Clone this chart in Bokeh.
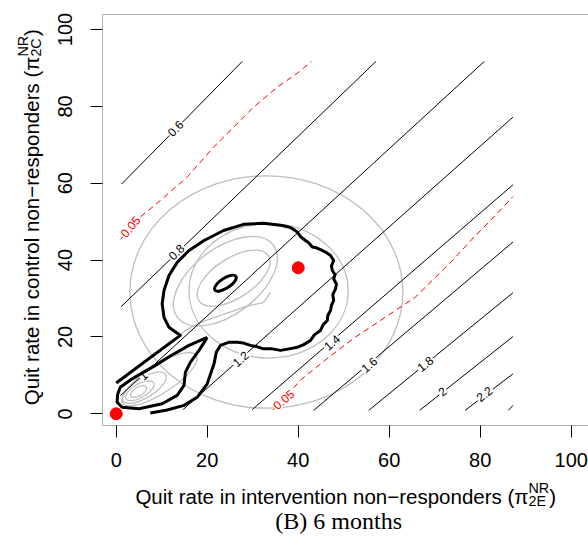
import math
from bokeh.plotting import figure
from bokeh.models import Label, FixedTicker, Range1d, BoxAnnotation
from bokeh.core.properties import value
from bokeh.embed import file_html
from bokeh.resources import INLINE

# ---------------- data ----------------
x_ticks = [0, 20, 40, 60, 80, 100]
y_ticks = [0, 20, 40, 60, 80, 100]

# plotting region limits (R's usr box)
box_x = [-3.0, 104.2]
box_y = [-3.04, 103.9]

# straight contour lines of the ratio surface
ratio_levels = ["0.6", "0.8", "1", "1.2", "1.4", "1.6", "1.8", "2", "2.2", "2.4"]
ratio_x0 = [1.2, 1.1, 0.9, 14.7, 29.9, 43.4, 55.5, 66.7, 76.7, 86.2]
ratio_y0 = [59.8, 27.9, 4.7, 1.1, 1.1, 0.9, 0.9, 0.9, 0.9, 0.9]
ratio_x1 = [27.7, 57.1, 80.9, 87.2, 87.2, 87.2, 87.2, 87.2, 87.2, 87.2]
ratio_y1 = [91.7, 91.7, 91.7, 77.2, 59.6, 44.7, 31.5, 20.1, 10.4, 2.2]
# where each level's label sits on its line (last level is unlabelled)
ratio_lab_x = [13.0, 13.2, 5.9, 27.3, 47.4, 55.6, 67.9, 71.7, 80.9]
ratio_lab_y = [74.3, 42.1, 10.0, 14.3, 18.6, 12.8, 13.0, 5.8, 5.2]

# 0.05 significance contours (red dashed)
sig_upper_x = [1.0, 5.3, 9.7, 15.6, 21.4, 25.8, 30.2, 35.4, 40.1, 42.9]
sig_upper_y = [45.4, 51.2, 55.5, 61.6, 69.4, 74.6, 79.8, 85.0, 88.9, 91.7]
sig_lower_x = [34.5, 37.5, 40.8, 46.7, 52.5, 59.1, 65.7, 69.8, 73.4, 78.5, 82.0, 87.2]
sig_lower_y = [1.0, 4.8, 9.1, 14.7, 19.9, 25.1, 30.3, 35.1, 39.3, 45.8, 50.0, 56.5]
sig_lab_x = [3.1, 36.8]
sig_lab_y = [48.7, 3.7]
sig_lab_text = ["0.05", "0.05"]

# thick black posterior contour (open "balloon" curve)
balloon_x = [0.0, 7.0, 14.1, 11.6, 10.5, 10.1, 10.5, 11.6, 13.4, 16.0, 19.3, 23.6, 28.0,
             32.4, 36.5, 38.3, 39.8, 40.6, 41.6, 42.3, 43.1, 44.0, 44.9, 46.0, 47.1, 47.8,
             47.3, 47.5, 48.1, 47.8, 48.4, 48.2, 47.6, 47.8, 47.3, 47.1, 46.5, 46.4, 45.5,
             44.9, 43.6, 42.7, 41.2, 39.8, 38.0, 36.1, 34.3, 32.4, 30.9, 29.5, 28.0, 26.6,
             24.7, 22.9, 22.0, 21.5, 20.0, 17.8, 14.9, 11.2, 7.5]
balloon_y = [8.0, 14.2, 20.4, 22.5, 25.1, 28.6, 32.1, 36.0, 39.4, 42.5, 45.1, 47.7, 49.3,
             49.6, 49.0, 48.5, 47.3, 46.0, 45.1, 44.5, 43.4, 43.2, 42.7, 42.1, 41.2, 39.9,
             38.5, 37.3, 36.2, 35.1, 33.8, 32.5, 31.0, 29.5, 28.2, 26.9, 25.6, 24.3, 23.2,
             21.7, 20.6, 19.1, 18.0, 17.3, 16.9, 16.5, 16.9, 16.9, 17.5, 17.8, 18.4, 18.6,
             18.6, 17.8, 16.0, 13.0, 7.8, 4.3, 2.2, 1.0, 0.2]
# thick black closed contour in the tail
tail_x = [20.0, 16.0, 12.0, 8.6, 3.5, 0.9, 0.3, 0.2, 1.3, 5.0, 10.1, 13.4, 14.9, 15.2,
          16.3, 18.2, 19.6, 20.0]
tail_y = [19.9, 17.8, 15.1, 12.6, 9.1, 6.9, 5.0, 3.0, 1.7, 1.3, 2.6, 4.8, 7.4, 10.8,
          13.4, 16.5, 19.1, 19.9]
# small thick black ellipse at the posterior mode (centre, axes in data units)
mode_x, mode_y = [24.0], [34.0]
mode_w, mode_h, mode_angle = [5.5], [2.6], [33]

# grey density contours: prior circles + posterior ellipses
grey_x = [33.0, 33.5, 25.8, 24.0, 4.9, 5.2, 6.2, 9.5]
grey_y = [31.7, 32.0, 35.3, 34.5, 5.8, 6.0, 6.8, 9.0]
grey_w = [60.0, 35.0, 18.2, 26.4, 4.0, 7.0, 11.0, 19.3]
grey_h = [60.5, 35.0, 10.4, 17.2, 2.3, 3.6, 5.2, 7.3]
grey_angle = [0, 0, 33, 37, 30, 30, 32, 33]
tongue_x = [33.9, 32.4, 28.4, 23.4, 18.5, 15.2, 12.5]
tongue_y = [31.6, 29.0, 27.9, 25.8, 23.8, 21.7, 18.8]

# true values (red points)
truth_x = [0, 40]
truth_y = [0, 38]

# ---------------- figure ----------------
W, H = 588, 545
XR = (-25.43, 103.80)
YR = (-34.27, 107.55)
sx = W / (XR[1] - XR[0])
sy = H / (YR[1] - YR[0])

p = figure(width=W, height=H, output_backend="svg", toolbar_location=None,
           x_range=Range1d(*XR), y_range=Range1d(*YR), min_border=0)
p.grid.visible = False
p.outline_line_color = None
p.background_fill_color = "white"
p.border_fill_color = "white"

for ax, t, loc in ((p.xaxis[0], x_ticks, box_y[0]), (p.yaxis[0], y_ticks, box_x[0])):
    ax.ticker = FixedTicker(ticks=t)
    ax.fixed_location = loc
    ax.axis_line_color = None
    ax.major_tick_out = 12
    ax.major_tick_in = 0
    ax.major_tick_line_color = "black"
    ax.minor_tick_line_color = None
    ax.major_label_text_font = "Liberation Sans"
    ax.major_label_text_font_size = "20px"
    ax.major_label_text_color = "black"
p.xaxis[0].major_label_standoff = 16
p.yaxis[0].major_label_standoff = 19
p.yaxis[0].major_label_orientation = "vertical"

# the plot box
p.add_layout(BoxAnnotation(left=box_x[0], right=box_x[1], bottom=box_y[0], top=box_y[1],
                           fill_color=None, fill_alpha=0, line_color="black",
                           line_width=1))

GREY = "#BEBEBE"
# grey contours
p.ellipse(x=grey_x, y=grey_y, width=grey_w, height=grey_h,
          angle=grey_angle, angle_units="deg",
          fill_color=None, line_color=GREY, line_width=1.3)
p.line(tongue_x, tongue_y, line_color=GREY, line_width=1.3)

# straight ratio contours
p.segment(x0=ratio_x0, y0=ratio_y0, x1=ratio_x1, y1=ratio_y1,
          line_color="black", line_width=1)
n = len(ratio_lab_x)
angles = [math.atan2((ratio_y1[i] - ratio_y0[i]) * sy, (ratio_x1[i] - ratio_x0[i]) * sx)
          for i in range(n)]
p.text(x=ratio_lab_x, y=ratio_lab_y, text=ratio_levels[:n], angle=angles,
       text_font=value("Liberation Sans"), text_font_size=value("12px"),
       text_align="center", text_baseline="middle", text_color="black",
       background_fill_color="white", padding=1)

# red dashed 0.05 contours
p.line(sig_upper_x, sig_upper_y, line_color="red", line_width=1, line_dash="6 4")
p.line(sig_lower_x, sig_lower_y, line_color="red", line_width=1, line_dash="6 4")
sig_angles = [math.radians(50), math.radians(40)]
p.text(x=sig_lab_x, y=sig_lab_y, text=sig_lab_text, angle=sig_angles,
       text_font=value("Liberation Sans"), text_font_size=value("12px"),
       text_align="center", text_baseline="middle", text_color="red",
       background_fill_color="white", padding=1)

# thick black posterior contours
p.line(balloon_x, balloon_y, line_color="black", line_width=3, line_join="round")
p.line(tail_x, tail_y, line_color="black", line_width=3, line_join="round")
p.ellipse(x=mode_x, y=mode_y, width=mode_w, height=mode_h, angle=mode_angle,
          angle_units="deg", fill_color=None, line_color="black", line_width=3)

# true values
p.scatter(truth_x, truth_y, size=12, color="red", marker="circle")

# ---------------- axis titles & caption ----------------
def lab(text, x, y, size, angle=0.0, align="left", font="Liberation Sans"):
    p.add_layout(Label(x=x, y=y, text=text, text_font=font,
                       text_font_size=f"{size}px", text_align=align,
                       text_baseline="alphabetic", angle=angle,
                       text_color="black"))

MAIN, SMALL = 20.5, 14.35
# x title
lab("Quit rate in intervention non\u2212responders (\u03c0", 90.6, -21.44, MAIN, align="right")
lab("NR", 90.6, -19.24, SMALL)
lab("2E", 90.6, -22.74, SMALL)
lab(")", 95.15, -21.44, MAIN)
# y title
ang = math.pi / 2
lab("Quit rate in control non\u2212responders (\u03c0", -18.62, 92.95, MAIN, angle=ang, align="right")
lab("NR", -20.42, 92.95, SMALL, angle=ang)
lab("2C", -17.52, 92.95, SMALL, angle=ang)
lab(")", -18.62, 98.34, MAIN, angle=ang)
# caption
lab("(B) 6 months", 48.9, -27.77, 24, align="center", font="Liberation Serif")

open("out.html", "w").write(file_html(p, INLINE))
